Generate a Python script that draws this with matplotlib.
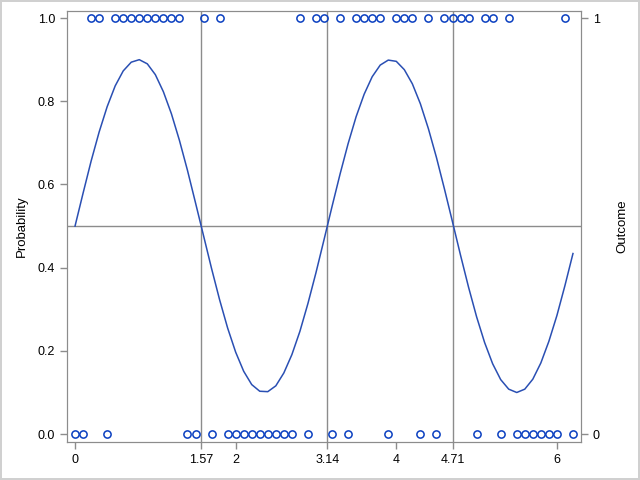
import numpy as np
import matplotlib
matplotlib.use("Agg")
from matplotlib import pyplot as plt

plt.rcParams['font.family'] = ['Liberation Sans', 'DejaVu Sans']

# x grid used by the model, step 0.1 from 0 to 6.2
x_values = [round(i * 0.1, 1) for i in range(63)]

probability = [
    0.500, 0.579, 0.656, 0.726, 0.787, 0.837, 0.873, 0.894, 0.900, 0.890,
    0.864, 0.823, 0.770, 0.706, 0.634, 0.556, 0.477, 0.398, 0.323, 0.255,
    0.197, 0.151, 0.119, 0.103, 0.102, 0.116, 0.147, 0.191, 0.247, 0.314,
    0.388, 0.467, 0.547, 0.625, 0.698, 0.763, 0.817, 0.859, 0.887, 0.899,
    0.896, 0.876, 0.842, 0.794, 0.734, 0.665, 0.589, 0.510, 0.430, 0.353,
    0.282, 0.220, 0.169, 0.131, 0.108, 0.100, 0.108, 0.132, 0.171, 0.223,
    0.285, 0.357, 0.434,
]

outcome = [
    0, 0, 1, 1, 0, 1, 1, 1, 1, 1,
    1, 1, 1, 1, 0, 0, 1, 0, 1, 0,
    0, 0, 0, 0, 0, 0, 0, 0, 1, 0,
    1, 1, 0, 1, 0, 1, 1, 1, 1, 0,
    1, 1, 1, 0, 1, 0, 1, 1, 1, 1,
    0, 1, 1, 0, 1, 0, 0, 0, 0, 0,
    0, 1, 0,
]

x_ticks = [0, 1.57, 2, 3.14, 4, 4.71, 6]
x_ticklabels = ["0", "1.57", "2", "3.14", "4", "4.71", "6"]
y_ticks = [0.0, 0.2, 0.4, 0.6, 0.8, 1.0]
ref_x = [1.57, 3.14, 4.71]
ref_y = 0.5

GRAY = '#8c8c8c'
LINE_BLUE = '#2a4fb3'
MARK_BLUE = '#0a3fc0'

fig = plt.figure(figsize=(6.4, 4.8), dpi=100)
fig.patch.set_edgecolor('#d0d0d0')
fig.patch.set_linewidth(1.5)
ax = fig.add_axes([67 / 640, 38 / 480, 514 / 640, 431 / 480])

for rx in ref_x:
    ax.axvline(rx, color=GRAY, linewidth=1, zorder=1)
ax.axhline(ref_y, color=GRAY, linewidth=1, zorder=1)

ax.plot(x_values, probability, color=LINE_BLUE, linewidth=1.1, zorder=3)
ax.plot(x_values, outcome, linestyle='none', marker='o', markersize=5.2,
        markerfacecolor='none', markeredgecolor=MARK_BLUE, markeredgewidth=1.1,
        zorder=4)

ax.set_xlim(-0.1, 6.3)
ax.set_ylim(-0.019, 1.017)
ax.set_xticks(x_ticks)
ax.set_xticklabels(x_ticklabels)
ax.set_yticks(y_ticks)
ax.set_yticklabels([f"{v:.1f}" for v in y_ticks])
ax.set_ylabel("Probability", fontsize=9.5, labelpad=7)

for s in ax.spines.values():
    s.set_color(GRAY)
ax.tick_params(colors='black', labelsize=9, length=5, width=1, color=GRAY)

ax2 = ax.twinx()
ax2.set_ylim(ax.get_ylim())
ax2.set_yticks([0, 1])
ax2.set_yticklabels(["0", "1"])
ax2.set_ylabel("Outcome", fontsize=9.5, labelpad=12)
for s in ax2.spines.values():
    s.set_color(GRAY)
ax2.tick_params(labelsize=9, length=5, width=1, color=GRAY)

fig.savefig("out.png", dpi=100, edgecolor=fig.get_edgecolor())
